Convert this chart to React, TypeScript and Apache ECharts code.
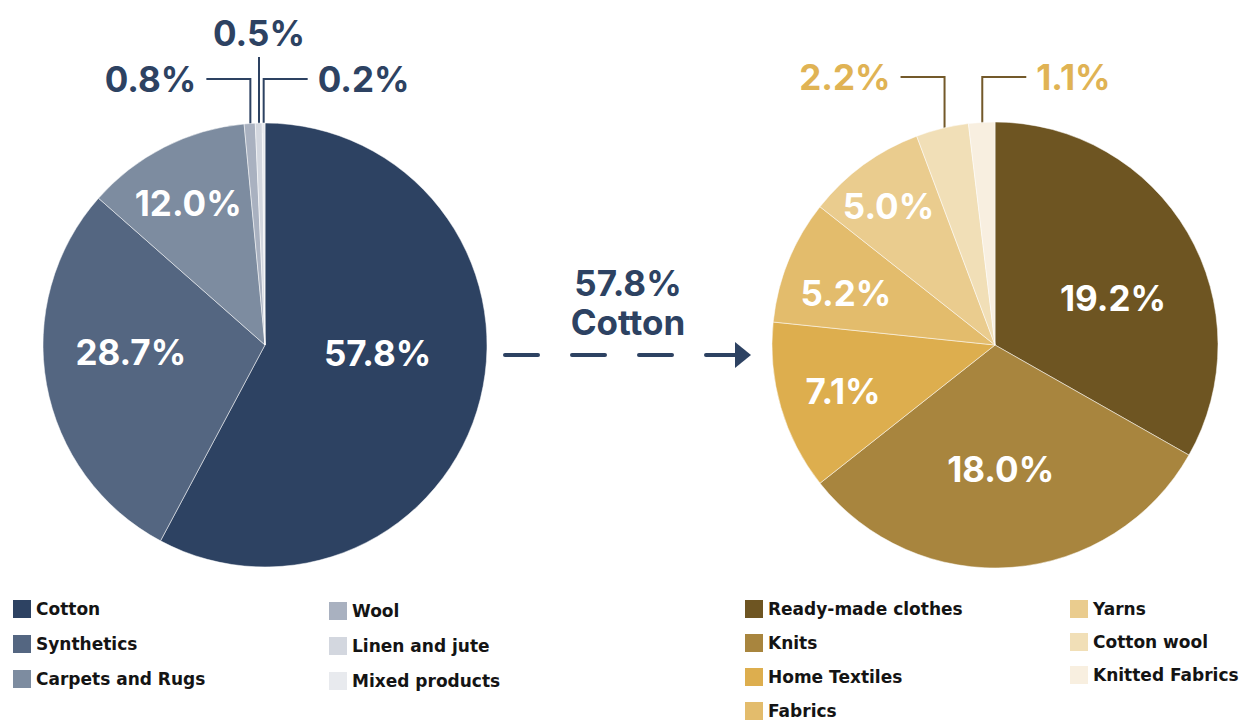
import React, { useEffect, useRef } from 'react';
import * as echarts from 'echarts';

// ---- data ----
const leftNames = ['Cotton', 'Synthetics', 'Carpets and Rugs', 'Wool', 'Linen and jute', 'Mixed products'];
const leftValues = [57.8, 28.7, 12.0, 0.8, 0.5, 0.2];
const leftColors = ['#2d4262', '#546681', '#7d8ca0', '#a9b1c0', '#d3d7df', '#e8eaee'];

const rightNames = ['Ready-made clothes', 'Knits', 'Home Textiles', 'Fabrics', 'Yarns', 'Cotton wool', 'Knitted Fabrics'];
const rightValues = [19.2, 18.0, 7.1, 5.2, 5.0, 2.2, 1.1];
const rightColors = ['#6e5522', '#a8853e', '#ddae4e', '#e3bc6c', '#eacc8e', '#f1dfb7', '#f8efe0'];

const transferLabel = 'Cotton';

// ---- layout (positions/styles, not data) ----
const NAVY = '#2d4262';
const GOLD = '#e0b354';
const BROWN = '#73592a';
const FONT = 'Inter, "Open Sans", sans-serif';
const LEGEND_FONT = '"DejaVu Sans", Inter, sans-serif';

const LEFT_GEO = { cx: 265, cy: 345, r: 222 };
const RIGHT_GEO = { cx: 995, cy: 345, r: 223 };

const LEFT_OFFSETS: Record<number, [number, number]> = { 0: [2, -20], 1: [-22, -13], 2: [-25, -40] };
const RIGHT_OFFSETS: Record<number, [number, number]> = {
  0: [19, 11], 1: [-3, 10], 2: [-42, 14], 3: [-43, -9], 4: [-39, -47],
};
type Small = { dir: 'left' | 'right' | 'up'; level: number };
const LEFT_SMALL: Record<number, Small> = {
  3: { dir: 'left', level: 79 },
  4: { dir: 'up', level: 57 },
  5: { dir: 'right', level: 79 },
};
const RIGHT_SMALL: Record<number, Small> = {
  5: { dir: 'left', level: 77 },
  6: { dir: 'right', level: 77 },
};

function makeLayout(values: number[], geo: { cx: number; cy: number; r: number },
  offsets: Record<number, [number, number]>, small: Record<number, Small>) {
  const total = values.reduce((a, b) => a + b, 0);
  return (p: any) => {
    const i = p.dataIndex;
    const s = small[i];
    if (!s) {
      const o = offsets[i] || [0, 0];
      return { dx: o[0], dy: o[1] };
    }
    let cum = 0;
    for (let k = 0; k < i; k++) cum += values[k];
    const th = ((cum + values[i] / 2) / total) * 2 * Math.PI;
    const R = geo.r - 10;
    const ax = geo.cx + R * Math.sin(th);
    const ay = geo.cy - R * Math.cos(th);
    if (s.dir === 'up') {
      return {
        x: ax, y: s.level - 24, align: 'center', verticalAlign: 'middle',
        labelLinePoints: [[ax, ay], [ax, (ay + s.level) / 2], [ax, s.level]],
      };
    }
    const sign = s.dir === 'left' ? -1 : 1;
    const ex = ax + sign * 44;
    return {
      x: ex + sign * 10, y: s.level, align: s.dir === 'left' ? 'right' : 'left', verticalAlign: 'middle',
      labelLinePoints: [[ax, ay], [ax, s.level], [ex, s.level]],
    };
  };
}

function buildData(names: string[], values: number[], colors: string[], small: Record<number, Small>,
  smallText: string, lineColor: string) {
  return names.map((n, i) => ({
    name: n,
    value: values[i],
    itemStyle: { color: colors[i] },
    label: small[i]
      ? { position: 'outside', color: smallText }
      : { position: 'inside', color: '#ffffff' },
    labelLine: { show: !!small[i], lineStyle: { color: lineColor, width: 2 } },
  }));
}

const labelBase = {
  show: true,
  fontFamily: FONT,
  fontSize: 35,
  fontWeight: 'bold' as const,
  formatter: (p: any) => Number(p.value).toFixed(1) + '%',
};

function legendBlock(names: string[], left: number, top: number, gap: number) {
  return {
    data: names,
    left, top,
    height: 160,
    orient: 'vertical',
    padding: 0,
    itemGap: gap,
    icon: 'rect',
    itemWidth: 18,
    itemHeight: 18,
    selectedMode: false,
    itemStyle: { borderWidth: 0 },
    textStyle: { fontFamily: LEGEND_FONT, fontSize: 17, fontWeight: 'bold', color: '#141414' },
  };
}

export default function App() {
  const ref = useRef<HTMLDivElement>(null);
  useEffect(() => {
    if (!ref.current) return;
    const chart = echarts.init(ref.current, undefined, { renderer: 'svg' });
    const cottonShare = leftValues[leftNames.indexOf(transferLabel)];
    chart.setOption({
      animation: false,
      backgroundColor: '#ffffff',
      textStyle: { fontFamily: FONT },
      legend: [
        legendBlock(leftNames.slice(0, 3), 13, 600, 17),
        legendBlock(leftNames.slice(3), 329, 602, 17),
        legendBlock(rightNames.slice(0, 4), 745, 600, 16),
        legendBlock(rightNames.slice(4), 1070, 600, 15),
      ],
      series: [
        {
          type: 'pie',
          center: [LEFT_GEO.cx, LEFT_GEO.cy],
          radius: [0, LEFT_GEO.r],
          startAngle: 90,
          clockwise: true,
          avoidLabelOverlap: false,
          itemStyle: { borderColor: '#ffffff', borderWidth: 0.5 },
          label: labelBase,
          labelLine: { show: true, length: 10, length2: 10 },
          labelLayout: makeLayout(leftValues, LEFT_GEO, LEFT_OFFSETS, LEFT_SMALL),
          emphasis: { disabled: true },
          data: buildData(leftNames, leftValues, leftColors, LEFT_SMALL, NAVY, NAVY),
        },
        {
          type: 'pie',
          center: [RIGHT_GEO.cx, RIGHT_GEO.cy],
          radius: [0, RIGHT_GEO.r],
          startAngle: 90,
          clockwise: true,
          avoidLabelOverlap: false,
          itemStyle: { borderColor: '#ffffff', borderWidth: 0.5 },
          label: labelBase,
          labelLine: { show: true, length: 10, length2: 10 },
          labelLayout: makeLayout(rightValues, RIGHT_GEO, RIGHT_OFFSETS, RIGHT_SMALL),
          emphasis: { disabled: true },
          data: buildData(rightNames, rightValues, rightColors, RIGHT_SMALL, GOLD, BROWN),
        },
      ],
      graphic: [
        {
          type: 'text',
          x: 628, y: 302,
          style: {
            text: `${cottonShare.toFixed(1)}%\n${transferLabel}`,
            fill: NAVY,
            font: `bold 35px ${FONT}`,
            lineHeight: 39,
            align: 'center',
            verticalAlign: 'middle',
          },
        },
        {
          type: 'line',
          shape: { x1: 505, y1: 355, x2: 740, y2: 355 },
          style: { stroke: NAVY, lineWidth: 4, lineCap: 'round', lineDash: [33, 34] },
        },
        {
          type: 'polygon',
          shape: { points: [[735, 342], [751, 355], [735, 368]] },
          style: { fill: NAVY },
        },
      ],
    });
    return () => chart.dispose();
  }, []);
  return <div ref={ref} style={{ position: 'absolute', left: 0, top: 0, width: 1244, height: 722 }} />;
}
